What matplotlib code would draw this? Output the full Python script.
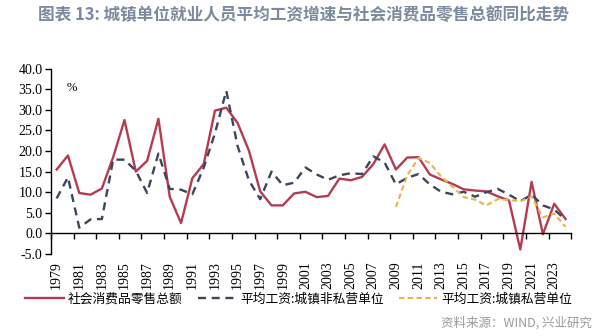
import numpy as np
import matplotlib.pyplot as plt

plt.rcParams['font.family'] = ['Noto Sans CJK SC', 'DejaVu Sans']

# data (%)
years = np.arange(1979, 2025)
retail = [15.5, 18.9, 9.8, 9.4, 10.9, 18.5, 27.5, 15.0, 17.6, 27.8,
          8.9, 2.5, 13.4, 16.8, 29.8, 30.5, 26.8, 20.1, 10.2, 6.8,
          6.8, 9.7, 10.1, 8.8, 9.1, 13.3, 12.9, 13.7, 16.8, 21.6,
          15.5, 18.4, 18.5, 14.3, 13.1, 12.0, 10.7, 10.4, 10.2, 9.0,
          8.0, -3.9, 12.5, -0.2, 7.2, 3.5]
wage_nonprivate = [8.5, 13.6, 1.4, 3.4, 3.5, 17.9, 17.9, 15.2, 9.8, 19.4,
                   10.8, 10.6, 9.5, 15.9, 24.3, 34.6, 21.2, 12.9, 8.3, 15.0,
                   11.7, 12.3, 16.0, 14.3, 13.0, 14.1, 14.6, 14.4, 18.7, 17.2,
                   11.9, 13.5, 14.4, 11.9, 10.1, 9.5, 10.1, 8.9, 10.0, 10.8,
                   9.4, 7.8, 9.4, 6.8, 5.8, 3.3]
years_private = np.arange(2009, 2025)
wage_private = [6.4, 14.1, 18.3, 17.1, 13.8, 11.3, 8.8, 8.2, 6.8, 8.3,
                8.1, 7.8, 8.9, 3.9, 4.8, 1.6]

names = ['社会消费品零售总额', '平均工资:城镇非私营单位', '平均工资:城镇私营单位']

fig = plt.figure(figsize=(6.07, 3.36), dpi=100)
ax = fig.add_axes([0.084, 0.244, 0.857, 0.552])

# x axis line sits on zero, set this first (it resets the ticks)
ax.spines['bottom'].set_position(('data', 0))
ax.spines['right'].set_visible(False)
ax.spines['top'].set_visible(False)
for s in ['bottom', 'left']:
    ax.spines[s].set_linewidth(1.0)

l1, = ax.plot(years, retail, color='#b53a52', lw=1.7, label=names[0])
l2, = ax.plot(years, wage_nonprivate, color='#3c4658', lw=1.7,
              dashes=(3.4, 2.4), label=names[1])
l3, = ax.plot(years_private, wage_private, color='#e8b44c', lw=1.5,
              dashes=(2.6, 1.6), label=names[2])

ax.set_xlim(years[0] - 0.5, years[-1] + 0.5)
ax.set_ylim(-5, 40)
yt = np.arange(-5, 41, 5)
ax.set_yticks(yt)
ax.set_yticklabels([f"{v:.1f}" for v in yt], family='Liberation Serif', fontsize=10)

# labels on odd years, ticks on category edges
ax.set_xticks(years[::2])
ax.set_xticklabels([str(y) for y in years[::2]], family='Liberation Serif', fontsize=10)
ax.set_xticks(np.arange(years[0] - 0.5, years[-1] + 1, 2), minor=True)
ax.tick_params(axis='x', which='major', length=0, pad=20, labelrotation=90)
ax.tick_params(axis='x', which='minor', length=4, direction='out', width=1)
ax.tick_params(axis='y', length=4, direction='out', width=1, pad=2)

ax.text(0.03, 0.93, '%', transform=ax.transAxes, fontsize=9,
        family='Liberation Serif', va='top')

fig.legend(handles=[l1, l2, l3], loc='center', bbox_to_anchor=(0.492, 0.11),
           ncol=3, frameon=False, fontsize=9.2, handlelength=3.0,
           columnspacing=1.2, handletextpad=0.3)

fig.text(0.5, 0.955, '图表 13: 城镇单位就业人员平均工资增速与社会消费品零售总额同比走势',
         ha='center', va='center', fontsize=12, fontweight='bold', color='#7b8a9e')
fig.text(0.975, 0.04, '资料来源：WIND, 兴业研究', ha='right', va='center',
         fontsize=9, color='#9a9a9a')

fig.savefig('out.png', dpi=100)
